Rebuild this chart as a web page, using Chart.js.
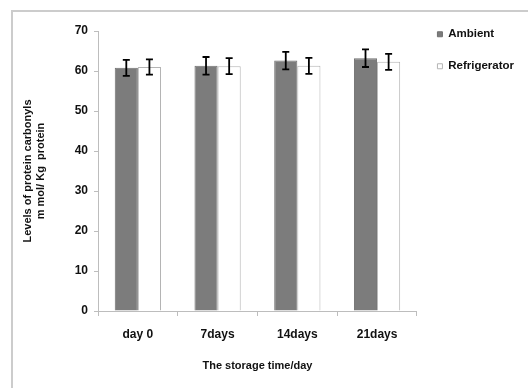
<!DOCTYPE html>
<html>
<head>
<meta charset="utf-8">
<script src="https://cdn.jsdelivr.net/npm/chart.js@4/dist/chart.umd.min.js"></script>
<style>
  html, body { margin: 0; padding: 0; background: #fff; }
  #wrap { position: relative; width: 528px; height: 388px; }
  #frame { position: absolute; left: 11px; top: 10px; right: 0; bottom: 0;
           border-left: 2px solid #cccccc; border-top: 2px solid #cccccc; }
  canvas { position: absolute; left: 0; top: 0; }
</style>
</head>
<body>
<div id="wrap">
  <div id="frame"></div>
  <canvas id="grafico" width="528" height="388"></canvas>
</div>
<script>
// dados
const categorias = ['day 0', '7days', '14days', '21days'];
const ambiente = [60.8, 61.3, 62.6, 63.2];
const ambienteErro = [2.0, 2.2, 2.2, 2.2];
const geladeira = [61.0, 61.2, 61.3, 62.3];
const geladeiraErro = [1.9, 2.0, 2.0, 2.0];
const ticksY = [0, 10, 20, 30, 40, 50, 60, 70];

const fonte = 'Liberation Sans, Arial, sans-serif';
const erros = [ambienteErro, geladeiraErro];

// barras de erro desenhadas a partir da escala y
const barrasErro = {
    id: 'barrasErro',
    afterDatasetsDraw(chart) {
        const ctx = chart.ctx;
        const y = chart.scales.y;
        ctx.save();
        ctx.strokeStyle = '#000';
        ctx.lineWidth = 1.8;
        chart.data.datasets.forEach((ds, i) => {
            const meta = chart.getDatasetMeta(i);
            meta.data.forEach((bar, j) => {
                const v = ds.data[j], e = erros[i][j];
                const yTop = y.getPixelForValue(v + e);
                const yBot = y.getPixelForValue(v - e);
                ctx.beginPath();
                ctx.moveTo(bar.x, yTop); ctx.lineTo(bar.x, yBot);
                ctx.moveTo(bar.x - 3.5, yTop); ctx.lineTo(bar.x + 3.5, yTop);
                ctx.moveTo(bar.x - 3.5, yBot); ctx.lineTo(bar.x + 3.5, yBot);
                ctx.stroke();
            });
        });
        ctx.restore();
    }
};

const ctx = document.getElementById('grafico').getContext('2d');
new Chart(ctx, {
    type: 'bar',
    data: {
        labels: categorias,
        datasets: [{
            label: 'Ambient',
            data: ambiente,
            backgroundColor: '#7c7c7c',
            borderColor: '#707070',
            borderWidth: 1
        }, {
            label: 'Refrigerator',
            data: geladeira,
            backgroundColor: '#ffffff',
            borderColor: '#b4b4b4',
            borderWidth: 1
        }]
    },
    options: {
        responsive: false,
        animation: false,
        events: [],
        barPercentage: 1,
        categoryPercentage: 0.58,
        layout: { padding: { top: 8, left: 14, right: 4, bottom: 0 } },
        scales: {
            x: {
                grid: { display: true, drawOnChartArea: false, drawTicks: true, tickLength: 5, color: '#bdbdbd', offset: true },
                border: { color: '#bdbdbd', width: 1 },
                ticks: { color: '#111', padding: 11, font: { family: fonte, size: 12, weight: 'bold' } },
                title: {
                    display: true, text: 'The storage time/day', color: '#111',
                    font: { family: fonte, size: 11, weight: 'bold', lineHeight: 1.2 },
                    padding: { top: 0, bottom: 15 }
                },
                afterFit(scale) { scale.height = 77; }
            },
            y: {
                min: 0, max: 70,
                afterBuildTicks(scale) { scale.ticks = ticksY.map(v => ({ value: v })); },
                grid: { display: true, drawOnChartArea: false, drawTicks: true, tickLength: 4, color: '#bdbdbd' },
                border: { color: '#bdbdbd', width: 1 },
                ticks: { color: '#111', padding: 6, font: { family: fonte, size: 12, weight: 'bold' } },
                title: {
                    display: true, text: ['Levels of protein carbonyls', 'm mol/ Kg  protein'], color: '#111',
                    font: { family: fonte, size: 11, weight: 'bold', lineHeight: 1.2 },
                    padding: { top: 7, bottom: 0 }
                },
                afterFit(scale) { scale.width = 84; }
            }
        },
        plugins: {
            title: {
                display: true, text: '', fullSize: false,
                font: { size: 10, lineHeight: 1.2 },
                padding: { top: 0, bottom: 11 }
            },
            legend: {
                position: 'right',
                align: 'start',
                maxWidth: 112,
                labels: {
                    boxWidth: 5, boxHeight: 5, padding: 20.5, color: '#111',
                    font: { family: fonte, size: 11.5, weight: 'bold' }
                }
            },
            tooltip: { enabled: false }
        }
    },
    plugins: [barrasErro]
});
</script>
</body>
</html>
